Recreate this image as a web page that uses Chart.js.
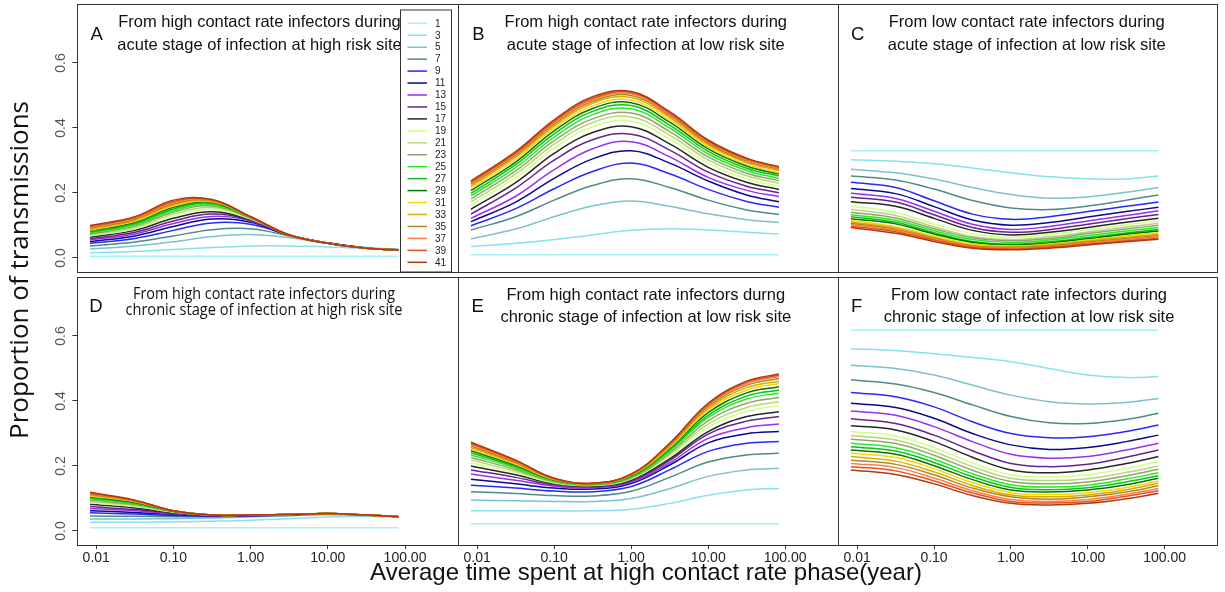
<!DOCTYPE html>
<html><head><meta charset="utf-8">
<script src="https://cdn.jsdelivr.net/npm/chart.js@4.4.1/dist/chart.umd.min.js"></script>
<style>
html,body{margin:0;padding:0;background:#fff;width:1225px;height:592px;overflow:hidden}
canvas{position:absolute;left:0;top:0}
</style></head><body>
<canvas id="cA" width="1225" height="592"></canvas>
<canvas id="cB" width="1225" height="592"></canvas>
<canvas id="cC" width="1225" height="592"></canvas>
<canvas id="cD" width="1225" height="592"></canvas>
<canvas id="cE" width="1225" height="592"></canvas>
<canvas id="cF" width="1225" height="592"></canvas>
<script>
// ---------------- DATA ----------------
const xValues = [0.0083, 0.0316, 0.1, 0.316, 1, 3.16, 10, 31.6, 83];
const seriesLabels = ['1','3','5','7','9','11','13','15','17','19','21','23','25','27','29','31','33','35','37','39','41'];
const xTickValues = [0.01, 0.1, 1, 10, 100];
const xTickLabels = ['0.01', '0.10', '1.00', '10.00', '100.00'];
const yTickValues = [0, 0.2, 0.4, 0.6];
const yTickLabels = ['0.0', '0.2', '0.4', '0.6'];
const xAxisTitle = 'Average time spent at high contact rate phase(year)';
const yAxisTitle = 'Proportion of transmissions';

const titleA = ['From high contact rate infectors during', 'acute stage of infection at high risk site'];
const titleB = ['From high contact rate infectors during', 'acute stage of infection at low risk site'];
const titleC = ['From low contact rate infectors during', 'acute stage of infection at low risk site'];
const titleD = ['From high contact rate infectors during', 'chronic stage of infection at high risk site'];
const titleE = ['From high contact rate infectors durng', 'chronic stage of infection at low risk site'];
const titleF = ['From low contact rate infectors during', 'chronic stage of infection at low risk site'];

const panelA = [
 [0.005,0.005,0.005,0.005,0.005,0.005,0.005,0.005,0.005],
 [0.016,0.020,0.026,0.032,0.037,0.037,0.034,0.029,0.026],
 [0.028,0.037,0.050,0.066,0.072,0.062,0.046,0.032,0.026],
 [0.037,0.049,0.068,0.087,0.090,0.068,0.046,0.031,0.025],
 [0.045,0.060,0.085,0.108,0.104,0.070,0.046,0.031,0.025],
 [0.050,0.068,0.097,0.120,0.110,0.070,0.046,0.030,0.025],
 [0.055,0.074,0.106,0.128,0.114,0.071,0.046,0.030,0.025],
 [0.059,0.079,0.114,0.135,0.116,0.071,0.046,0.030,0.025],
 [0.064,0.085,0.122,0.142,0.118,0.071,0.045,0.030,0.025],
 [0.068,0.090,0.129,0.150,0.120,0.071,0.045,0.030,0.025],
 [0.071,0.094,0.135,0.155,0.122,0.071,0.045,0.030,0.025],
 [0.074,0.098,0.141,0.160,0.123,0.071,0.045,0.030,0.025],
 [0.077,0.102,0.146,0.164,0.124,0.071,0.045,0.030,0.025],
 [0.080,0.106,0.151,0.168,0.125,0.071,0.045,0.030,0.025],
 [0.084,0.110,0.156,0.171,0.125,0.071,0.045,0.030,0.025],
 [0.086,0.113,0.160,0.173,0.126,0.071,0.045,0.030,0.025],
 [0.089,0.116,0.164,0.175,0.126,0.071,0.045,0.030,0.025],
 [0.092,0.119,0.167,0.177,0.126,0.071,0.045,0.030,0.025],
 [0.094,0.122,0.170,0.178,0.127,0.071,0.045,0.030,0.025],
 [0.097,0.125,0.174,0.179,0.127,0.071,0.045,0.030,0.025],
 [0.100,0.127,0.178,0.180,0.127,0.071,0.045,0.030,0.025]
];
const panelB = [
 [0.010,0.010,0.010,0.010,0.010,0.010,0.010,0.010,0.010],
 [0.035,0.045,0.057,0.071,0.085,0.090,0.086,0.079,0.074],
 [0.059,0.089,0.127,0.160,0.175,0.159,0.136,0.118,0.109],
 [0.086,0.127,0.178,0.223,0.244,0.217,0.178,0.148,0.134],
 [0.099,0.152,0.213,0.266,0.292,0.259,0.211,0.174,0.156],
 [0.112,0.172,0.245,0.305,0.330,0.292,0.237,0.194,0.173],
 [0.122,0.190,0.272,0.336,0.358,0.311,0.248,0.208,0.189],
 [0.135,0.215,0.301,0.364,0.381,0.332,0.264,0.221,0.201],
 [0.150,0.232,0.322,0.386,0.404,0.351,0.279,0.233,0.211],
 [0.163,0.247,0.338,0.404,0.421,0.366,0.291,0.243,0.221],
 [0.173,0.258,0.350,0.417,0.434,0.378,0.302,0.253,0.230],
 [0.182,0.268,0.361,0.428,0.446,0.389,0.311,0.261,0.238],
 [0.191,0.278,0.372,0.441,0.459,0.400,0.320,0.269,0.245],
 [0.199,0.287,0.382,0.451,0.469,0.409,0.328,0.276,0.252],
 [0.207,0.295,0.391,0.460,0.478,0.418,0.336,0.283,0.258],
 [0.214,0.303,0.399,0.468,0.486,0.425,0.342,0.288,0.263],
 [0.221,0.310,0.406,0.476,0.494,0.432,0.348,0.294,0.269],
 [0.227,0.316,0.412,0.482,0.500,0.438,0.353,0.298,0.273],
 [0.231,0.320,0.417,0.487,0.505,0.442,0.357,0.302,0.276],
 [0.234,0.323,0.421,0.491,0.509,0.446,0.360,0.305,0.279],
 [0.237,0.327,0.425,0.496,0.512,0.450,0.363,0.307,0.281]
];
const panelC = [
 [0.330,0.330,0.330,0.330,0.330,0.330,0.330,0.330,0.330],
 [0.302,0.298,0.290,0.277,0.262,0.250,0.244,0.243,0.252],
 [0.273,0.262,0.243,0.217,0.195,0.184,0.188,0.202,0.217],
 [0.252,0.240,0.212,0.177,0.154,0.149,0.160,0.178,0.194],
 [0.233,0.217,0.176,0.135,0.119,0.127,0.143,0.159,0.172],
 [0.214,0.198,0.158,0.117,0.101,0.109,0.126,0.143,0.156],
 [0.199,0.183,0.144,0.104,0.088,0.097,0.114,0.131,0.145],
 [0.187,0.172,0.133,0.094,0.079,0.087,0.104,0.121,0.134],
 [0.173,0.159,0.122,0.085,0.071,0.079,0.094,0.110,0.122],
 [0.160,0.141,0.104,0.074,0.064,0.072,0.087,0.102,0.114],
 [0.150,0.131,0.096,0.066,0.057,0.065,0.080,0.095,0.107],
 [0.141,0.123,0.090,0.062,0.053,0.060,0.075,0.089,0.101],
 [0.133,0.116,0.084,0.057,0.048,0.055,0.069,0.083,0.094],
 [0.127,0.110,0.078,0.051,0.043,0.050,0.063,0.077,0.088],
 [0.121,0.105,0.074,0.048,0.040,0.046,0.059,0.073,0.083],
 [0.116,0.096,0.067,0.043,0.037,0.043,0.055,0.068,0.078],
 [0.111,0.092,0.063,0.039,0.034,0.040,0.052,0.064,0.073],
 [0.107,0.088,0.060,0.037,0.032,0.038,0.049,0.060,0.069],
 [0.103,0.085,0.058,0.035,0.030,0.035,0.046,0.057,0.065],
 [0.098,0.081,0.055,0.033,0.028,0.033,0.043,0.053,0.061],
 [0.094,0.076,0.051,0.030,0.025,0.030,0.040,0.050,0.058]
];
const panelD = [
 [0.010,0.010,0.010,0.010,0.010,0.010,0.010,0.010,0.010],
 [0.027,0.027,0.028,0.030,0.033,0.038,0.043,0.045,0.043],
 [0.037,0.037,0.038,0.040,0.043,0.047,0.050,0.048,0.044],
 [0.046,0.045,0.044,0.044,0.045,0.048,0.052,0.049,0.044],
 [0.056,0.052,0.048,0.046,0.047,0.050,0.053,0.049,0.044],
 [0.062,0.057,0.051,0.047,0.048,0.050,0.053,0.049,0.044],
 [0.069,0.062,0.053,0.048,0.048,0.051,0.054,0.049,0.044],
 [0.075,0.066,0.055,0.048,0.049,0.051,0.054,0.049,0.044],
 [0.082,0.071,0.057,0.049,0.049,0.051,0.054,0.049,0.044],
 [0.087,0.075,0.058,0.049,0.049,0.051,0.054,0.049,0.044],
 [0.091,0.078,0.059,0.049,0.049,0.051,0.054,0.049,0.044],
 [0.095,0.081,0.060,0.049,0.049,0.051,0.054,0.049,0.044],
 [0.099,0.084,0.060,0.049,0.049,0.051,0.054,0.049,0.044],
 [0.102,0.086,0.061,0.049,0.049,0.051,0.054,0.049,0.044],
 [0.105,0.088,0.061,0.049,0.049,0.051,0.054,0.049,0.044],
 [0.108,0.090,0.062,0.049,0.049,0.051,0.054,0.049,0.044],
 [0.111,0.091,0.062,0.049,0.049,0.051,0.054,0.049,0.044],
 [0.113,0.092,0.062,0.049,0.049,0.051,0.054,0.049,0.044],
 [0.115,0.093,0.062,0.049,0.049,0.051,0.054,0.049,0.044],
 [0.117,0.094,0.062,0.049,0.049,0.051,0.054,0.049,0.044],
 [0.119,0.095,0.062,0.049,0.049,0.051,0.054,0.049,0.044]
];
const panelE = [
 [0.022,0.022,0.022,0.022,0.022,0.022,0.022,0.022,0.022],
 [0.062,0.062,0.062,0.062,0.067,0.085,0.110,0.126,0.131],
 [0.095,0.093,0.091,0.091,0.100,0.130,0.168,0.188,0.193],
 [0.121,0.115,0.109,0.108,0.122,0.165,0.212,0.234,0.239],
 [0.141,0.132,0.123,0.121,0.137,0.188,0.245,0.270,0.275],
 [0.159,0.145,0.132,0.129,0.146,0.203,0.271,0.299,0.306],
 [0.175,0.156,0.138,0.133,0.150,0.210,0.285,0.318,0.329],
 [0.188,0.165,0.142,0.136,0.154,0.217,0.298,0.338,0.352],
 [0.200,0.173,0.145,0.138,0.157,0.222,0.306,0.352,0.367],
 [0.210,0.179,0.148,0.140,0.160,0.230,0.319,0.368,0.385],
 [0.218,0.184,0.150,0.141,0.162,0.235,0.329,0.380,0.398],
 [0.226,0.189,0.152,0.142,0.164,0.240,0.339,0.393,0.411],
 [0.234,0.194,0.154,0.143,0.166,0.246,0.349,0.406,0.424],
 [0.241,0.198,0.156,0.144,0.168,0.250,0.356,0.415,0.434],
 [0.247,0.202,0.157,0.145,0.170,0.254,0.364,0.425,0.444],
 [0.252,0.205,0.158,0.145,0.171,0.257,0.371,0.434,0.454],
 [0.257,0.208,0.159,0.146,0.172,0.261,0.377,0.441,0.461],
 [0.262,0.211,0.160,0.146,0.173,0.264,0.383,0.448,0.469],
 [0.266,0.214,0.161,0.147,0.174,0.267,0.388,0.454,0.475],
 [0.270,0.216,0.162,0.147,0.175,0.268,0.390,0.458,0.479],
 [0.273,0.218,0.162,0.147,0.175,0.270,0.393,0.461,0.483]
];
const panelF = [
 [0.618,0.618,0.618,0.618,0.618,0.618,0.618,0.618,0.618],
 [0.561,0.555,0.545,0.534,0.521,0.500,0.480,0.472,0.475],
 [0.510,0.500,0.480,0.449,0.418,0.398,0.391,0.395,0.408],
 [0.465,0.452,0.426,0.388,0.352,0.333,0.331,0.343,0.362],
 [0.426,0.413,0.382,0.336,0.300,0.287,0.290,0.306,0.326],
 [0.393,0.380,0.347,0.300,0.265,0.251,0.257,0.275,0.295],
 [0.369,0.356,0.321,0.275,0.236,0.224,0.229,0.249,0.270],
 [0.345,0.331,0.295,0.247,0.208,0.198,0.205,0.227,0.249],
 [0.324,0.311,0.275,0.227,0.188,0.179,0.188,0.208,0.229],
 [0.306,0.292,0.256,0.210,0.173,0.166,0.173,0.193,0.213],
 [0.293,0.280,0.244,0.198,0.162,0.155,0.161,0.180,0.200],
 [0.282,0.269,0.233,0.187,0.152,0.145,0.151,0.170,0.190],
 [0.270,0.256,0.221,0.176,0.142,0.135,0.141,0.160,0.179],
 [0.259,0.246,0.211,0.167,0.134,0.127,0.133,0.151,0.170],
 [0.249,0.236,0.201,0.158,0.126,0.120,0.126,0.142,0.162],
 [0.239,0.226,0.192,0.149,0.118,0.112,0.118,0.134,0.154],
 [0.229,0.215,0.182,0.140,0.111,0.105,0.111,0.127,0.147],
 [0.218,0.205,0.173,0.132,0.105,0.098,0.105,0.120,0.139],
 [0.208,0.195,0.163,0.124,0.097,0.091,0.097,0.113,0.131],
 [0.198,0.185,0.154,0.117,0.091,0.086,0.091,0.107,0.124],
 [0.188,0.174,0.145,0.109,0.085,0.080,0.085,0.099,0.116]
];

// ---------------- STYLE ----------------
const seriesColors = ['#a6f0f8','#86e2ee','#7cc2ca','#4e8a8a','#2828ff','#0a0a8c','#9a30f0','#68248e','#262626',
  '#d2ff84','#b2d87a','#98a070','#22ee22','#10c010','#007800','#ffd400','#dcaa00','#aa8c18','#ff7a4a','#e8501a','#b03a10'];
const SANS = '"Liberation Sans", Arial, sans-serif';
const logMin = Math.pow(10, -2.245), logMax = Math.pow(10, 2.69);
const yMin = -0.0431, yMax = 0.7815;
const Y_AXIS_W = 40, X_AXIS_H = 30;

const panels = [
  {id:'cA', data:panelA, box:[77.3,4,458.3,272], showX:false, showY:true, letter:'A', letterPos:[96.7,40], title:titleA, titleX:259.5, titleBase:[27,49.7], legend:true},
  {id:'cB', data:panelB, box:[458.3,4,838.3,272], showX:false, showY:false, letter:'B', letterPos:[478.3,40], title:titleB, titleX:645.8, titleBase:[27,49.7]},
  {id:'cC', data:panelC, box:[838.3,4,1217.7,272], showX:false, showY:false, letter:'C', letterPos:[857.7,40], title:titleC, titleX:1026.7, titleBase:[27,49.7]},
  {id:'cD', data:panelD, box:[77.3,277,458.3,545], showX:true, showY:true, letter:'D', letterPos:[96,311.7], title:titleD, titleX:264, titleBase:[299.3,314.8], narrow:true, axisTitles:true},
  {id:'cE', data:panelE, box:[458.3,277,838.3,545], showX:true, showY:false, letter:'E', letterPos:[477.7,311.7], title:titleE, titleX:645.8, titleBase:[299.5,321.8]},
  {id:'cF', data:panelF, box:[838.3,277,1217.7,545], showX:true, showY:false, letter:'F', letterPos:[856.7,311.7], title:titleF, titleX:1029, titleBase:[299.5,321.8]}
];

const decor = {
  id: 'decor',
  afterDraw(chart, args, opts) {
    const p = opts.panel; const ctx = chart.ctx; const a = chart.chartArea;
    ctx.save();
    ctx.strokeStyle = '#333'; ctx.lineWidth = 1;
    ctx.strokeRect(Math.round(a.left) + 0.5, Math.round(a.top) + 0.5, Math.round(a.right - a.left), Math.round(a.bottom - a.top));
    ctx.fillStyle = '#111';
    ctx.textAlign = 'center'; ctx.textBaseline = 'alphabetic';
    ctx.font = '18.5px ' + SANS;
    ctx.fillText(p.letter, p.letterPos[0], p.letterPos[1]);
    if (p.narrow) {
      ctx.font = '17px "Open Sans", sans-serif';
      ctx.fillText(p.title[0], p.titleX, p.titleBase[0], 262);
      ctx.fillText(p.title[1], p.titleX, p.titleBase[1], 277);
    } else {
      ctx.font = '16.5px ' + SANS;
      ctx.fillText(p.title[0], p.titleX, p.titleBase[0]);
      ctx.fillText(p.title[1], p.titleX, p.titleBase[1]);
    }
    if (p.legend) {
      const lx = 400, ly = 9.5, lw = 51, lh = 262;
      ctx.fillStyle = '#fff';
      ctx.fillRect(lx, ly, lw, lh);
      ctx.strokeStyle = '#333'; ctx.lineWidth = 1;
      ctx.strokeRect(lx + 0.5, ly + 0.5, lw, lh);
      ctx.font = '10px ' + SANS;
      ctx.textAlign = 'left'; ctx.textBaseline = 'middle';
      chart.data.datasets.forEach((ds, i) => {
        const y = 23.3 + i * 11.95;
        ctx.strokeStyle = ds.borderColor; ctx.lineWidth = 1.5;
        ctx.beginPath(); ctx.moveTo(407.5, y); ctx.lineTo(427, y); ctx.stroke();
        ctx.fillStyle = '#222';
        ctx.fillText(ds.label, 435, y + 0.5);
      });
    }
    if (p.axisTitles) {
      ctx.fillStyle = '#111';
      ctx.textAlign = 'center'; ctx.textBaseline = 'alphabetic';
      ctx.font = '24px ' + SANS;
      ctx.fillText(xAxisTitle, 646, 580, 552);
      ctx.save();
      ctx.translate(28, 270);
      ctx.rotate(-Math.PI / 2);
      ctx.font = '26px "Open Sans", sans-serif';
      ctx.fillText(yAxisTitle, 0, 0, 340);
      ctx.restore();
    }
    ctx.restore();
  }
};

panels.forEach(p => {
  const datasets = p.data.map((arr, i) => ({
    label: seriesLabels[i],
    data: xValues.map((x, j) => ({x: x, y: arr[j]})),
    borderColor: seriesColors[i],
    backgroundColor: seriesColors[i],
    borderWidth: 1.5,
    pointRadius: 0,
    tension: 0.4,
    fill: false,
    order: 20 - i
  }));
  const axW = p.showY ? Y_AXIS_W : 0;
  const axH = p.showX ? X_AXIS_H : 0;
  new Chart(document.getElementById(p.id), {
    type: 'line',
    data: { datasets },
    plugins: [decor],
    options: {
      responsive: false,
      animation: false,
      layout: { autoPadding: false, padding: { left: p.box[0] - axW, top: p.box[1], right: 1225 - p.box[2], bottom: 592 - p.box[3] - axH } },
      plugins: { legend: { display: false }, tooltip: { enabled: false }, decor: { panel: p } },
      scales: {
        x: {
          type: 'logarithmic', min: logMin, max: logMax, display: p.showX,
          afterFit(s) { s.height = axH; s.paddingLeft = 0; s.paddingRight = 0; s.paddingTop = 0; s.paddingBottom = 0; },
          afterBuildTicks(s) { s.ticks = xTickValues.map(v => ({ value: v })); },
          ticks: { autoSkip: false, maxRotation: 0, minRotation: 0, padding: 1, color: '#222',
                   font: { size: 14, family: SANS }, callback: (v, i) => xTickLabels[i] },
          grid: { drawOnChartArea: false, drawTicks: true, tickLength: 4, color: '#333' },
          border: { display: false }
        },
        y: {
          type: 'linear', min: yMin, max: yMax, display: p.showY,
          afterFit(s) { s.width = axW; s.paddingLeft = 0; s.paddingRight = 0; s.paddingTop = 0; s.paddingBottom = 0; },
          afterBuildTicks(s) { s.ticks = yTickValues.map(v => ({ value: v })); },
          ticks: { autoSkip: false, minRotation: 90, maxRotation: 90, crossAlign: 'center', padding: 1,
                   color: '#555', font: { size: 14, family: SANS }, callback: (v, i) => yTickLabels[i] },
          grid: { drawOnChartArea: false, drawTicks: true, tickLength: 5, color: '#333' },
          border: { display: false }
        }
      }
    }
  });
});
</script>
</body></html>
